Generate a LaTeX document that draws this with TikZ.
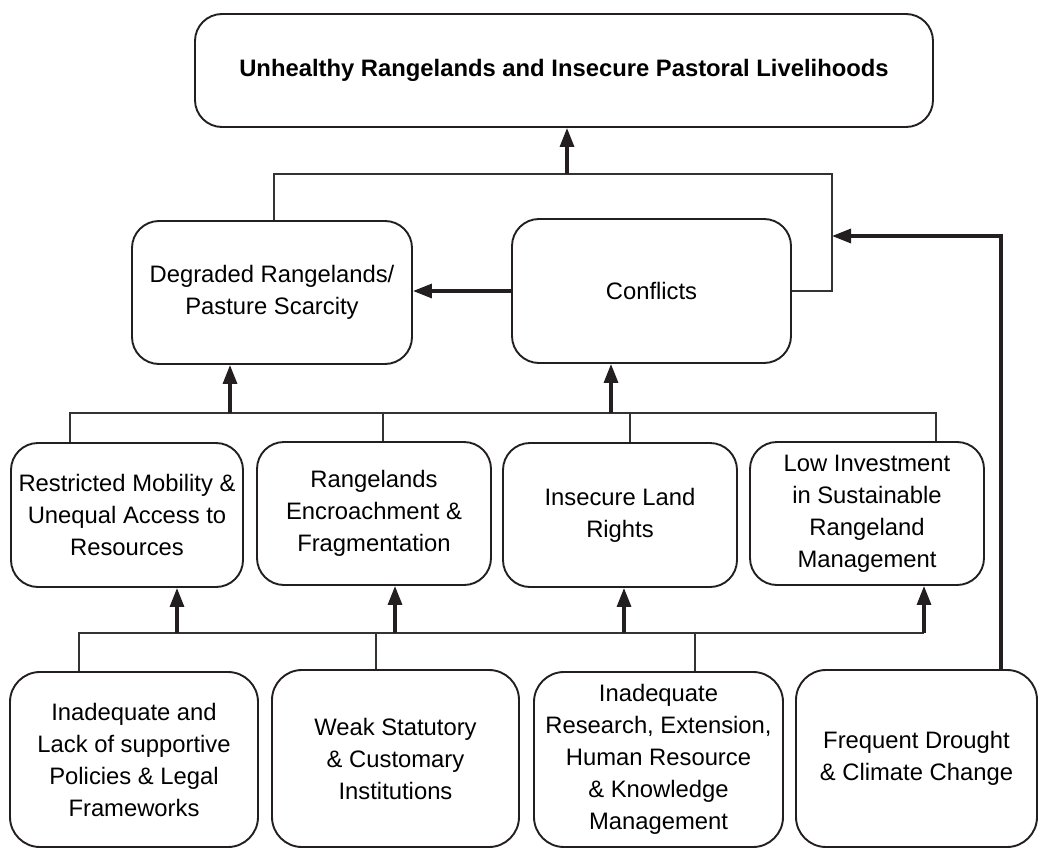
\documentclass[tikz,border=0pt]{standalone}
\usepackage{fontspec}
\setmainfont{Liberation Sans}
\usetikzlibrary{arrows.meta}
\definecolor{boxc}{HTML}{231F20}
\definecolor{linec}{HTML}{333333}
\begin{document}
\begin{tikzpicture}[x=1pt,y=-1pt,
  box/.style={draw=boxc, line width=1.9pt, rounded corners=27pt, align=center,
    inner sep=0pt, font=\fontsize{23.8}{32}\selectfont},
  conn/.style={draw=linec, line width=1.3pt},
  arr/.style={draw=boxc, line width=3.2pt, -{Triangle[length=19pt,width=14pt]}},
]
\useasboundingbox (0,0) rectangle (1038,848);

% top
\node[box, minimum width=738pt, minimum height=113pt, font=\fontsize{23.8}{32}\selectfont\bfseries] (top) at (564,70.5) {Unhealthy Rangelands and Insecure Pastoral Livelihoods};

% second row
\node[box, minimum width=280pt, minimum height=143pt] (deg) at (272,292.5) {Degraded Rangelands/\\Pasture Scarcity};
\node[box, minimum width=279pt, minimum height=144pt] (conf) at (651.5,291) {Conflicts};

% third row
\node[box, minimum width=232pt, minimum height=144pt] (r1) at (127,515) {Restricted Mobility \&\\Unequal Access to\\Resources};
\node[box, minimum width=234pt, minimum height=143pt] (r2) at (374,513.5) {Rangelands\\Encroachment \&\\Fragmentation};
\node[box, minimum width=234pt, minimum height=144pt] (r3) at (620,515) {Insecure Land\\Rights};
\node[box, minimum width=234pt, minimum height=143pt] (r4) at (867,513.5) {Low Investment\\in Sustainable\\Rangeland\\Management};

% bottom row
\node[box, rounded corners=30pt, minimum width=248pt, minimum height=175pt] (b1) at (134,759.5) {Inadequate and\\Lack of supportive\\Policies \& Legal\\Frameworks};
\node[box, rounded corners=30pt, minimum width=247pt, minimum height=177pt] (b2) at (395.5,758.5) {Weak Statutory\\\& Customary\\Institutions};
\node[box, rounded corners=30pt, minimum width=249pt, minimum height=175pt] (b3) at (658.5,759.5) {Inadequate\\Research, Extension,\\Human Resource\\\& Knowledge\\Management};
\node[box, rounded corners=30pt, minimum width=241pt, minimum height=177pt] (b4) at (916.5,758.5) {Frequent Drought\\\& Climate Change};

% junction coordinates
\coordinate (tj) at (567,174);
\coordinate (tl) at (274,174);
\coordinate (tr) at (832,174);
\coordinate (dr) at (1001,236);

\coordinate (m1) at (70,413);
\coordinate (m2) at (383,413);
\coordinate (m3) at (630,413);
\coordinate (m4) at (936,413);
\coordinate (md) at (230,413);
\coordinate (mc) at (611,413);

\coordinate (n1) at (79,633);
\coordinate (n2) at (376,633);
\coordinate (n3) at (695,633);
\coordinate (a1) at (177,633);
\coordinate (a2) at (395,633);
\coordinate (a3) at (624,633);
\coordinate (a4) at (924,633);

% top connectors
\draw[conn] (deg.north -| tl) -- (tl) -- (tr) -- (tr |- conf.east) -- (conf.east);
\draw[arr] (tj) -- (top.south -| tj);
\draw[arr] (conf.west) -- (deg.east |- conf.west);
\draw[arr] (b4.north -| dr) -- (dr) -- (tr |- dr);

% middle connectors
\draw[conn] (r1.north -| m1) -- (m1) -- (m4) -- (r4.north -| m4);
\draw[conn] (m2) -- (r2.north -| m2);
\draw[conn] (m3) -- (r3.north -| m3);
\draw[arr] (md) -- (deg.south -| md);
\draw[arr] (mc) -- (conf.south -| mc);

% bottom connectors
\draw[conn] (b1.north -| n1) -- (n1) -- (a4);
\draw[conn] (n2) -- (b2.north -| n2);
\draw[conn] (n3) -- (b3.north -| n3);
\draw[arr] (a1) -- (r1.south -| a1);
\draw[arr] (a2) -- (r2.south -| a2);
\draw[arr] (a3) -- (r3.south -| a3);
\draw[arr] (a4) -- (r4.south -| a4);
\end{tikzpicture}
\end{document}
